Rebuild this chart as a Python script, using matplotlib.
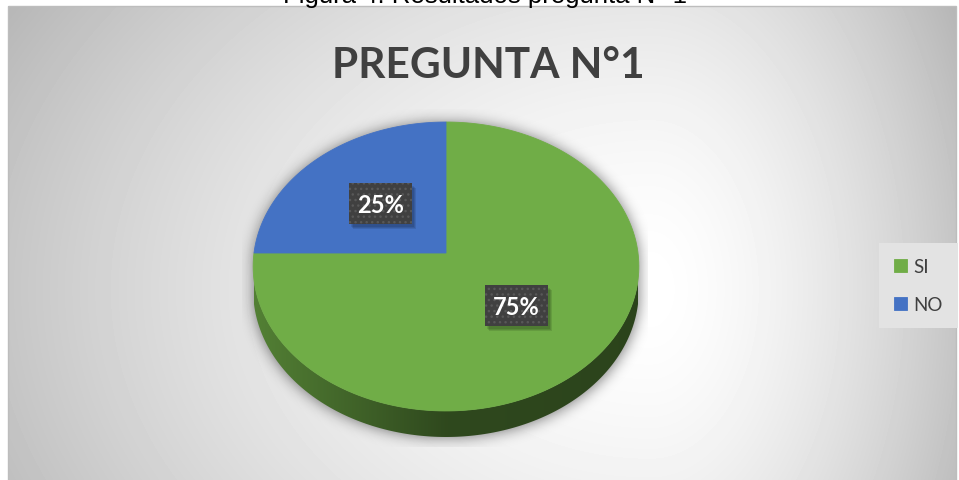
import numpy as np
import matplotlib.pyplot as plt
from matplotlib.patches import Polygon, Rectangle
from matplotlib.colors import LinearSegmentedColormap, to_rgb

# data
categories = ['SI', 'NO']
values = [75, 25]
colors = ['#70AD47', '#4472C4']
title = 'PREGUNTA N°1'
caption = 'Figura 4. Resultados pregunta N° 1'

W, H = 959, 481
fig = plt.figure(figsize=(W / 100, H / 100), dpi=100)
ax = fig.add_axes([0, 0, 1, 1])

# pie first (it resets aspect / limits), then switch to pixel coords
wedges, texts, autotexts = ax.pie(values, colors=colors, startangle=90, counterclock=False,
                                  autopct='%1.0f%%', pctdistance=0.5,
                                  wedgeprops=dict(linewidth=0))
ax.set_aspect('auto')
ax.set_xlim(0, W)
ax.set_ylim(H, 0)
ax.axis('off')

# perspective of the 3d pie (unit disk -> pixels)
cx, cy = 446, 254
rx, ry, k = 192, 143.2, 0.0934
depth = 23.6


def proj(u, v, drop=0.0):
    s = 1 / (1 + k * v)
    return cx + rx * u * s, cy - ry * v * s + drop * s


# background: radial gradient
xs = np.arange(8, 956)
ys = np.arange(7, 481)
X, Y = np.meshgrid(xs, ys)
hx, hy = 650, 290
dx = np.where(X < hx, (X - hx) / 680, (X - hx) / 320)
dy = (Y - hy) / 500
d = np.sqrt(dx ** 2 + dy ** 2)
bg = np.clip(255 - 62 * d ** 1.6, 0, 255) / 255
ax.imshow(bg, cmap='gray', vmin=0, vmax=1, extent=(8, 956, 481, 7), zorder=0, aspect='auto')
ax.add_patch(Rectangle((7.5, 6.5), 948, 480, fill=False, ec='#bdbdbd', lw=1, zorder=0.5))


def inside(Xp, Yp):
    t = (cy - Yp) / ry
    v = t / (1 - k * t)
    u = (Xp - cx) / rx * (1 + k * v)
    return u ** 2 + v ** 2 <= 1


# soft shadow under the pie
sx = np.arange(230, 662)
sy = np.arange(110, 462)
SX, SY = np.meshgrid(sx, sy)
mask = (inside(SX, SY) | inside(SX, SY - 26) | inside(SX, SY - 13)).astype(float)
sig = 7
kx = np.arange(-3 * sig, 3 * sig + 1)
kern = np.exp(-kx ** 2 / (2 * sig ** 2))
kern /= kern.sum()
mask = np.apply_along_axis(lambda r: np.convolve(r, kern, mode='same'), 1, mask)
mask = np.apply_along_axis(lambda c: np.convolve(c, kern, mode='same'), 0, mask)
mask = np.clip(mask * 1.5, 0, 1)
shadow = np.zeros(mask.shape + (4,))
shadow[..., 3] = 0.34 * mask
sh = ax.imshow(shadow, extent=(230, 662, 462, 110), zorder=1, aspect='auto')
sh.set_clip_path(Rectangle((242, 110), 406, 338, transform=ax.transData))

# side band of the front half
for w, col in zip(wedges, colors):
    a1, a2 = sorted([w.theta1, w.theta2])
    lo, hi = max(a1, -180), min(a2, 0)
    if hi <= lo:
        continue
    t = np.radians(np.linspace(lo, hi, 200))
    top = np.array([proj(np.cos(a), np.sin(a)) for a in t])
    bot = np.array([proj(np.cos(a), np.sin(a), depth) for a in t])
    band = Polygon(np.vstack([top, bot[::-1]]), closed=True, fc='none', ec='none')
    ax.add_patch(band)
    base = np.array(to_rgb(col))
    cmap = LinearSegmentedColormap.from_list('side', [base * 0.74, base * 0.42, base * 0.39])
    grad = np.linspace(0, 1, 256)[None, :]
    im = ax.imshow(grad, cmap=cmap, extent=(cx - rx, cx + rx, 450, 250), zorder=2, aspect='auto')
    im.set_clip_path(band)

# top face: pie wedges warped into perspective
handles = []
for w, col in zip(wedges, colors):
    t = np.radians(np.linspace(w.theta1, w.theta2, 200))
    pts = [proj(0, 0)] + [proj(np.cos(a), np.sin(a)) for a in t]
    p = Polygon(pts, closed=True, fc=col, ec=col, lw=0.6, zorder=3)
    ax.add_patch(p)
    handles.append(p)
    w.remove()

# data labels
for at in autotexts:
    u, v = at.get_position()
    lx, ly = proj(u, v)
    for i in range(3):
        ax.add_patch(Rectangle((lx - 31.5 + 2 + i, ly - 20.5 + 3 + i), 63, 41,
                               fc='black', ec='none', alpha=0.1, zorder=4))
    ax.add_patch(Rectangle((lx - 31.5, ly - 20.5), 63, 41, fc='#404040', ec='none', zorder=5))
    ax.add_patch(Rectangle((lx - 31.5, ly - 20.5), 63, 41, fill=False, ec='#585858', lw=0,
                           hatch='...', zorder=5.1))
    at.set_position((lx, ly + 1))
    at.set(color='white', fontsize=17, fontweight='bold', fontfamily='Lato',
           ha='center', va='center', zorder=6)

# legend
leg = ax.legend(handles, categories, loc='center left', bbox_to_anchor=(879 / W, 1 - 286.5 / H),
                prop=dict(family='Lato', size=13.5), frameon=True, fancybox=False,
                facecolor='#e3e3e3', edgecolor='none', framealpha=1,
                handlelength=0.7, handleheight=0.7, handletextpad=0.35,
                labelspacing=1.15, borderpad=0.8, borderaxespad=0)
for txt in leg.get_texts():
    txt.set_color('#404040')

# title and cut caption
ax.text(488, 78, title, ha='center', va='baseline', fontsize=30.5, fontweight='bold',
        fontfamily='Lato', color='#404040', zorder=6)
ax.add_patch(Rectangle((0, 0), W, 6.5, fc='white', ec='none', zorder=0.2))
ax.text(485, 3.5, caption, ha='center', va='baseline', fontsize=18.5,
        fontfamily='Liberation Sans', color='black', zorder=6)

fig.savefig('out.png', dpi=100, facecolor='white')
